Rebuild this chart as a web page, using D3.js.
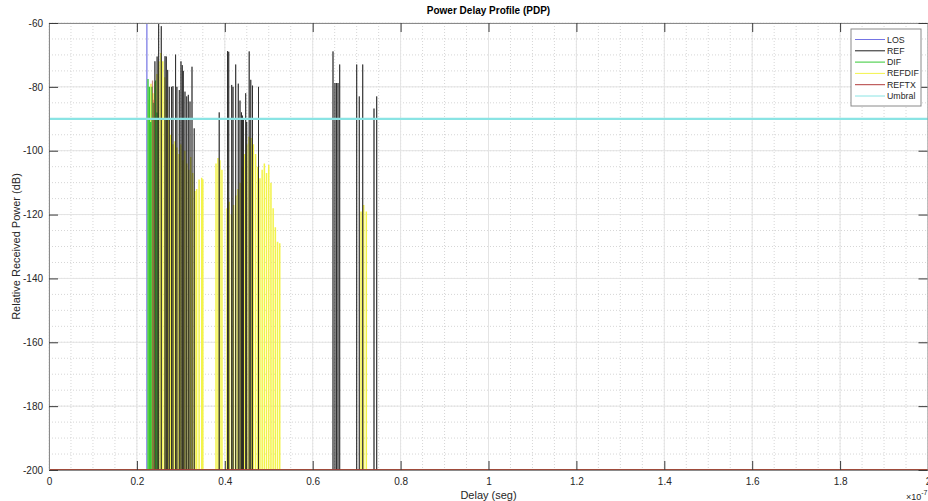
<!DOCTYPE html>
<html>
<head>
<meta charset="utf-8">
<script src="https://cdn.jsdelivr.net/npm/d3@7"></script>
<style>
  html, body { margin: 0; padding: 0; background: #ffffff; }
  svg { display: block; font-family: "Liberation Sans", Arial, Helvetica, sans-serif; }
</style>
</head>
<body>
<svg id="chart" width="928" height="501"></svg>
<script>
// Delays in units of 1e-7 s, powers in dB
const losDelay = [0.2227];
const losPower = [-60];

const refDelay = [0.241, 0.246, 0.2495, 0.2555, 0.264, 0.267, 0.270, 0.2737, 0.2787, 0.282,
  0.288, 0.291, 0.2965, 0.3003, 0.3033, 0.3056, 0.3094, 0.3133, 0.317, 0.3208,
  0.3254, 0.3304, 0.3873, 0.4062, 0.4089, 0.4157, 0.4187, 0.4248, 0.4307, 0.4346,
  0.438, 0.4403, 0.4425, 0.4475, 0.4498, 0.4555, 0.4591, 0.463, 0.4767,
  0.6462, 0.6507, 0.6542, 0.6576, 0.6614, 0.7001, 0.706, 0.7138, 0.7395, 0.7456];
const refPower = [-72, -70.5, -60.3, -61, -70.4, -70.5, -74.7, -80, -80, -79.8,
  -69.9, -80, -81, -72, -73.2, -75, -81.5, -83, -82.5, -84.6,
  -73.7, -93, -88, -68.8, -69, -79.4, -80, -73, -79, -84.3,
  -88, -89, -90, -82, -91, -68.9, -77.8, -79.6, -80,
  -68.9, -78.8, -78.8, -78.8, -73, -73, -83, -73, -86.8, -83];

const difDelay = [0.2253, 0.2287, 0.231, 0.2343, 0.2378, 0.2423, 0.2457];
const difPower = [-77.5, -80, -91, -80, -85, -78, -88];

const refdifDelay = [0.2275, 0.232, 0.2365, 0.241, 0.2455, 0.25, 0.2545, 0.259, 0.2635, 0.268,
  0.2725, 0.277, 0.282, 0.2865, 0.291, 0.2955, 0.30, 0.3045, 0.309, 0.3135,
  0.318, 0.3225, 0.327, 0.332, 0.336, 0.3415, 0.3475, 0.35,
  0.38, 0.3845, 0.389, 0.3935,
  0.405, 0.41, 0.415, 0.42, 0.425, 0.43, 0.435, 0.44, 0.445, 0.45,
  0.455, 0.46, 0.465, 0.47, 0.475, 0.48, 0.485, 0.49, 0.495, 0.50,
  0.505, 0.51, 0.515, 0.52, 0.525,
  0.710, 0.716, 0.722];
const refdifPower = [-84, -79, -82, -78.5, -76, -72, -69.4, -72, -77, -84,
  -90, -95, -98, -97, -99, -101, -98, -103, -100, -104,
  -106, -102, -107, -112.6, -112, -109, -108.5, -109,
  -104, -102.3, -103, -106,
  -118, -116, -120, -117, -114, -112, -110, -105, -101, -98,
  -95.6, -96, -98, -101, -105, -108.6, -106, -104, -107, -104.5,
  -110, -118, -124, -128.5, -129,
  -119, -117, -119];

const reftxDelay = [0.2355, 0.2389];
const reftxPower = [-78, -84];

const umbralPower = -90;

const seriesNames = ["LOS", "REF", "DIF", "REFDIF", "REFTX", "Umbral"];
const seriesColors = {
  LOS: "#7474e4", REF: "#1e1e1e", DIF: "#35c935",
  REFDIF: "#f3f34a", REFTX: "#b23c3c", Umbral: "#8ae4e4"
};

const xTicks = [0, 0.2, 0.4, 0.6, 0.8, 1, 1.2, 1.4, 1.6, 1.8, 2];
const yTicks = [-200, -180, -160, -140, -120, -100, -80, -60];
const xMinor = d3.range(0, 2.0001, 0.05);
const yMinor = d3.range(-200, -59.99, 5);

const plotLeft = 49, plotRight = 928, plotTop = 23, plotBottom = 470;
const svg = d3.select("#chart");

const x = d3.scaleLinear().domain([0, 2]).range([plotLeft, plotRight]);
const y = d3.scaleLinear().domain([-200, -60]).range([plotBottom, plotTop]);

// grid
const grid = svg.append("g");
grid.selectAll(".xmin").data(xMinor).join("line")
  .attr("x1", d => x(d)).attr("x2", d => x(d)).attr("y1", plotTop).attr("y2", plotBottom)
  .attr("stroke", "#d6d6d6").attr("stroke-dasharray", "1,2").attr("stroke-width", 1);
grid.selectAll(".ymin").data(yMinor).join("line")
  .attr("y1", d => y(d)).attr("y2", d => y(d)).attr("x1", plotLeft).attr("x2", plotRight)
  .attr("stroke", "#d6d6d6").attr("stroke-dasharray", "1,2").attr("stroke-width", 1);
grid.selectAll(".xmaj").data(xTicks).join("line")
  .attr("x1", d => x(d)).attr("x2", d => x(d)).attr("y1", plotTop).attr("y2", plotBottom)
  .attr("stroke", "#e4e4e4").attr("stroke-width", 1);
grid.selectAll(".ymaj").data(yTicks).join("line")
  .attr("y1", d => y(d)).attr("y2", d => y(d)).attr("x1", plotLeft).attr("x2", plotRight)
  .attr("stroke", "#e4e4e4").attr("stroke-width", 1);

// stem path: baseline across the whole axis with a vertical spike per ray
function stemPath(delays, powers) {
  const pts = [[0, -200]];
  delays.map((d, i) => [d, powers[i]]).sort((a, b) => a[0] - b[0]).forEach(([d, p]) => {
    pts.push([d, -200], [d, p], [d, -200]);
  });
  pts.push([2, -200]);
  return d3.line().x(p => x(p[0])).y(p => y(p[1]))(pts);
}

const plot = svg.append("g");
plot.append("path").attr("d", stemPath(losDelay, losPower))
  .attr("fill", "none").attr("stroke", seriesColors.LOS).attr("stroke-width", 1.2);
plot.append("path").attr("d", stemPath(refdifDelay, refdifPower))
  .attr("fill", "none").attr("stroke", seriesColors.REFDIF).attr("stroke-width", 1.5);
plot.append("path").attr("d", stemPath(difDelay, difPower))
  .attr("fill", "none").attr("stroke", seriesColors.DIF).attr("stroke-width", 1.3);
plot.append("path").attr("d", stemPath(refDelay, refPower))
  .attr("fill", "none").attr("stroke", seriesColors.REF).attr("stroke-width", 1).attr("stroke-opacity", 0.72);
plot.append("path").attr("d", stemPath(reftxDelay, reftxPower))
  .attr("fill", "none").attr("stroke", seriesColors.REFTX).attr("stroke-width", 1.2).attr("stroke-opacity", 0.6);
plot.append("line")
  .attr("x1", x(0)).attr("x2", x(2)).attr("y1", y(-200)).attr("y2", y(-200))
  .attr("stroke", seriesColors.REFTX).attr("stroke-width", 1.5);
plot.append("line")
  .attr("x1", x(0)).attr("x2", x(2)).attr("y1", y(umbralPower)).attr("y2", y(umbralPower))
  .attr("stroke", seriesColors.Umbral).attr("stroke-width", 2.2);

// axes (MATLAB-style box with inward ticks)
const fmtX = d => String(+d.toFixed(1));
const axB = svg.append("g").attr("transform", `translate(0,${plotBottom})`)
  .call(d3.axisBottom(x).tickValues(xTicks).tickFormat(fmtX).tickSizeInner(-9).tickSizeOuter(0).tickPadding(8));
const axT = svg.append("g").attr("transform", `translate(0,${plotTop})`)
  .call(d3.axisTop(x).tickValues(xTicks).tickFormat("").tickSizeInner(-9).tickSizeOuter(0));
const axL = svg.append("g").attr("transform", `translate(${plotLeft},0)`)
  .call(d3.axisLeft(y).tickValues(yTicks).tickFormat(d => String(d)).tickSizeInner(-9).tickSizeOuter(0).tickPadding(6));
const axR = svg.append("g").attr("transform", `translate(${plotRight - 0.5},0)`)
  .call(d3.axisRight(y).tickValues(yTicks).tickFormat("").tickSizeInner(-9).tickSizeOuter(0));
[axB, axT, axL, axR].forEach(g => {
  g.select(".domain").attr("stroke", "#8a8a8a");
  g.selectAll(".tick line").attr("stroke", "#3a3a3a");
  g.selectAll(".tick text").attr("fill", "#262626").attr("font-size", 10)
    .attr("font-family", "Liberation Sans, Arial, sans-serif");
});

// exponent label
const ex = svg.append("text").attr("x", 906).attr("y", 500).attr("font-size", 9).attr("fill", "#262626");
ex.append("tspan").text("×10");
ex.append("tspan").attr("dy", -5).attr("font-size", 7).text("-7");

// titles
svg.append("text").attr("x", (plotLeft + plotRight) / 2).attr("y", 14).attr("text-anchor", "middle")
  .attr("font-size", 10).attr("font-weight", "bold").attr("fill", "#000").text("Power Delay Profile (PDP)");
svg.append("text").attr("x", (plotLeft + plotRight) / 2).attr("y", 499).attr("text-anchor", "middle")
  .attr("font-size", 11).attr("fill", "#262626").text("Delay (seg)");
svg.append("text").attr("transform", `translate(20,${(plotTop + plotBottom) / 2}) rotate(-90)`)
  .attr("text-anchor", "middle").attr("font-size", 11).attr("fill", "#262626")
  .text("Relative Received Power (dB)");

// legend
const lg = svg.append("g").attr("transform", "translate(851,29)");
lg.append("rect").attr("width", 70).attr("height", 77).attr("fill", "#fff").attr("stroke", "#8a8a8a");
seriesNames.forEach((name, i) => {
  const yy = 10.5 + i * 11.3;
  lg.append("line").attr("x1", 4).attr("x2", 34).attr("y1", yy).attr("y2", yy)
    .attr("stroke", seriesColors[name]).attr("stroke-width", 1);
  lg.append("text").attr("x", 36).attr("y", yy).attr("dy", "0.35em")
    .attr("font-size", 8.8).attr("fill", "#262626").text(name);
});
</script>
</body>
</html>
